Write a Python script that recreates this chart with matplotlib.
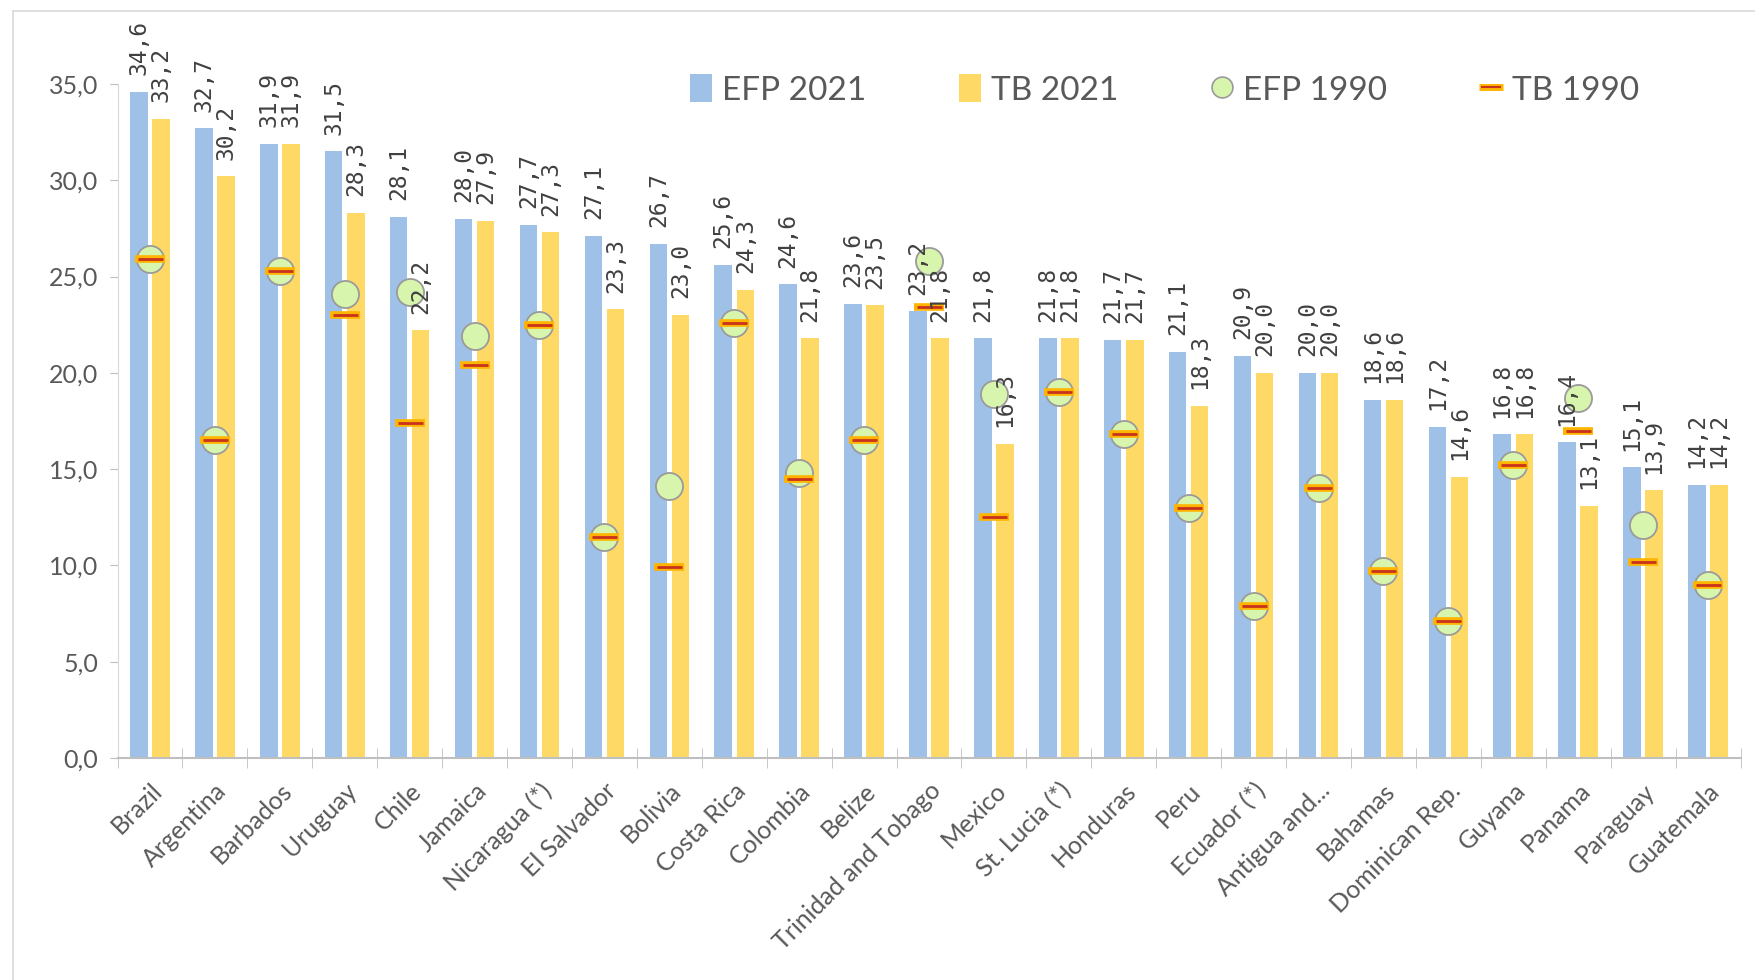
import matplotlib
matplotlib.use("Agg")
import matplotlib.pyplot as plt
from matplotlib.lines import Line2D
from matplotlib.patches import Patch
import numpy as np

countries = ["Brazil", "Argentina", "Barbados", "Uruguay", "Chile", "Jamaica",
             "Nicaragua (*)", "El Salvador", "Bolivia", "Costa Rica", "Colombia",
             "Belize", "Trinidad and Tobago", "Mexico", "St. Lucia (*)", "Honduras",
             "Peru", "Ecuador (*)", "Antigua and...", "Bahamas", "Dominican Rep.",
             "Guyana", "Panama", "Paraguay", "Guatemala"]
efp_2021 = [34.6, 32.7, 31.9, 31.5, 28.1, 28.0, 27.7, 27.1, 26.7, 25.6, 24.6, 23.6,
            23.2, 21.8, 21.8, 21.7, 21.1, 20.9, 20.0, 18.6, 17.2, 16.8, 16.4, 15.1, 14.2]
tb_2021 = [33.2, 30.2, 31.9, 28.3, 22.2, 27.9, 27.3, 23.3, 23.0, 24.3, 21.8, 23.5,
           21.8, 16.3, 21.8, 21.7, 18.3, 20.0, 20.0, 18.6, 14.6, 16.8, 13.1, 13.9, 14.2]
efp_1990 = [25.9, 16.5, 25.3, 24.1, 24.2, 21.9, 22.5, 11.5, 14.1, 22.6, 14.8, 16.5,
            25.8, 18.9, 19.0, 16.8, 13.0, 7.9, 14.0, 9.7, 7.1, 15.2, 18.7, 12.1, 9.0]
tb_1990 = [25.9, 16.5, 25.3, 23.0, 17.4, 20.4, 22.5, 11.5, 9.9, 22.6, 14.5, 16.5,
           23.4, 12.5, 19.0, 16.8, 13.0, 7.9, 14.0, 9.7, 7.1, 15.2, 17.0, 10.2, 9.0]
yticks = [0, 5, 10, 15, 20, 25, 30, 35]

BLUE = "#9FC1E7"
YELLOW = "#FFD966"
GREEN = "#D8F5AD"
GREEN_EDGE = "#9A9A9A"
ORANGE = "#FFB400"
RED = "#C8321E"
TXT = "#595959"
LBL = "#404040"

fig = plt.figure(figsize=(17.55, 9.8), dpi=100)
ax = fig.add_axes([117.5 / 1755, 222 / 980, (1740.5 - 117.5) / 1755, 674 / 980])

x = np.arange(len(countries))
w = 0.27
off = 0.17
ax.bar(x - off, efp_2021, width=w, color=BLUE, zorder=2)
ax.bar(x + off, tb_2021, width=w, color=YELLOW, zorder=2)

ax.plot(x, efp_1990, linestyle="none", marker="o", markersize=19.5,
        markerfacecolor=GREEN, markeredgecolor=GREEN_EDGE, markeredgewidth=1.3, zorder=3)
ax.plot(x, tb_1990, linestyle="none", marker="_", markersize=22,
        markeredgecolor=ORANGE, markeredgewidth=5.5, zorder=4)
ax.plot(x, tb_1990, linestyle="none", marker="_", markersize=18,
        markeredgecolor=RED, markeredgewidth=2.0, zorder=5)

def fmt(v):
    return f"{v:.1f}".replace(".", ",")

for xi, v in zip(x, efp_2021):
    ax.annotate(fmt(v), (xi - off, v), xytext=(0, 12), textcoords="offset points",
                rotation=90, ha="center", va="bottom", fontsize=16.5,
                family="DejaVu Sans Mono", color=LBL, zorder=6)
for xi, v in zip(x, tb_2021):
    ax.annotate(fmt(v), (xi + off, v), xytext=(0, 12), textcoords="offset points",
                rotation=90, ha="center", va="bottom", fontsize=16.5,
                family="DejaVu Sans Mono", color=LBL, zorder=6)

ax.set_xlim(-0.5, len(countries) - 0.5)
ax.set_ylim(0, 35)
ax.set_yticks(yticks)
ax.set_yticklabels([fmt(t) for t in yticks], fontsize=18, family="Lato", color=TXT)
ax.set_xticks(x)
ax.set_xticklabels(countries, rotation=45, ha="right", rotation_mode="anchor",
                   fontsize=18, family="Lato", color=TXT)
ax.tick_params(axis="x", which="major", length=0, pad=15)
ax.set_xticks(np.arange(-0.5, len(countries) + 0.5, 1), minor=True)
ax.tick_params(axis="x", which="minor", direction="inout", length=14, color="#BFBFBF")
ax.tick_params(axis="y", direction="out", length=6, color="#BFBFBF", pad=8)

for s in ["top", "right"]:
    ax.spines[s].set_visible(False)
ax.spines["left"].set_color("#D9D9D9")
ax.spines["bottom"].set_color("#BFBFBF")
ax.spines["bottom"].set_linewidth(1.5)

handles = [
    Patch(facecolor=BLUE, edgecolor="none"),
    Patch(facecolor=YELLOW, edgecolor="none"),
    Line2D([], [], linestyle="none", marker="o", markersize=15, markerfacecolor=GREEN,
           markeredgecolor=GREEN_EDGE, markeredgewidth=1.2),
    (Line2D([], [], linestyle="none", marker="_", markersize=17, markeredgecolor=ORANGE,
            markeredgewidth=5),
     Line2D([], [], linestyle="none", marker="_", markersize=14, markeredgecolor=RED,
            markeredgewidth=1.5)),
]
labels = ["EFP 2021", "TB 2021", "EFP 1990", "TB 1990"]
leg = fig.legend(handles, labels, loc="center left", bbox_to_anchor=(690 / 1755, 1 - 90 / 980),
                 ncol=4, frameon=False, prop={"family": "Lato", "size": 24},
                 handlelength=0.65, handleheight=0.9, handletextpad=0.3,
                 columnspacing=2.8, borderpad=0, borderaxespad=0)
for t in leg.get_texts():
    t.set_color(TXT)

fig.add_artist(Line2D([13 / 1755, 1], [1 - 11 / 980, 1 - 11 / 980], color="#D9D9D9",
                      linewidth=1.2, transform=fig.transFigure))
fig.add_artist(Line2D([13 / 1755, 13 / 1755], [0, 1 - 11 / 980], color="#D9D9D9",
                      linewidth=1.2, transform=fig.transFigure))

fig.savefig("out.png", dpi=100, facecolor="white")
